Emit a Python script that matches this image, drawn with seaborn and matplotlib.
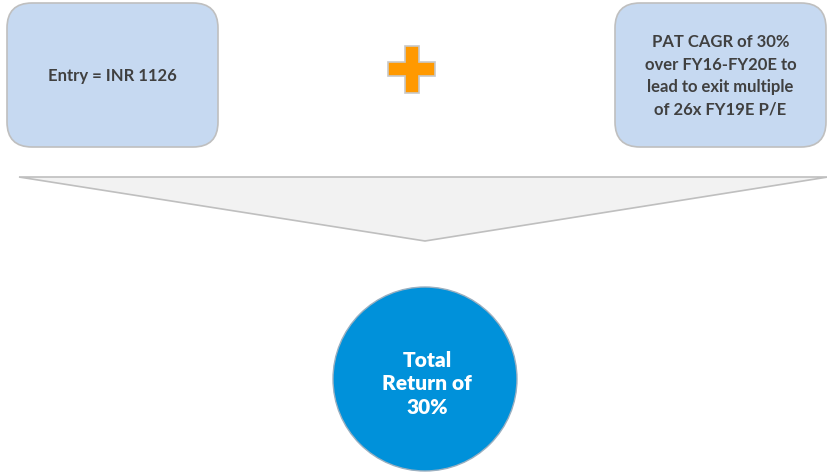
import matplotlib
matplotlib.use("Agg")
import matplotlib.pyplot as plt
import seaborn as sns
from matplotlib.patches import FancyBboxPatch, Polygon, Circle

sns.set_theme(style="white")
plt.rcParams['font.family'] = ['Lato', 'DejaVu Sans']

left_text = "Entry = INR 1126"
right_text = "PAT CAGR of 30%\nover FY16-FY20E to\nlead to exit multiple\nof 26x FY19E P/E"
result_text = "Total\nReturn of\n30%"

box_fill = "#C6D9F1"
edge_gray = "#BFBFBF"
text_gray = "#404040"

fig = plt.figure(figsize=(8.28, 4.77), dpi=100)
ax = fig.add_axes([0, 0, 1, 1])
ax.set_xlim(0, 828)
ax.set_ylim(477, 0)
ax.axis("off")

# boxes
for x0, x1, txt in [(7, 218, left_text), (615, 826, right_text)]:
    b = FancyBboxPatch((x0 + 25, 4 + 25), (x1 - x0) - 50, 144 - 50,
                       boxstyle="round,pad=25", fc=box_fill, ec=edge_gray, lw=1.2)
    ax.add_patch(b)
    ax.text((x0 + x1) / 2, 76, txt, ha="center", va="center", fontsize=12,
            fontweight="bold", color=text_gray, linespacing=1.5)

# plus sign
cx, cy, L, t = 412, 70, 23.5, 7
plus = [(cx - t, cy - L), (cx + t, cy - L), (cx + t, cy - t), (cx + L, cy - t),
        (cx + L, cy + t), (cx + t, cy + t), (cx + t, cy + L), (cx - t, cy + L),
        (cx - t, cy + t), (cx - L, cy + t), (cx - L, cy - t), (cx - t, cy - t)]
ax.add_patch(Polygon(plus, closed=True, fc="#FF9900", ec="#C8C8C8", lw=1.2))

# triangle
ax.add_patch(Polygon([(19, 178), (828, 178), (425, 242)], closed=True,
                     fc="#F2F2F2", ec=edge_gray, lw=1.2))

# circle
ax.add_patch(Circle((425, 380), 92, fc="#0091DA", ec="#9AAFC0", lw=1.0))
ax.text(427, 384, result_text, ha="center", va="center", fontsize=15,
        fontweight="heavy", color="white", linespacing=1.3)

fig.savefig("out.png", dpi=100)
